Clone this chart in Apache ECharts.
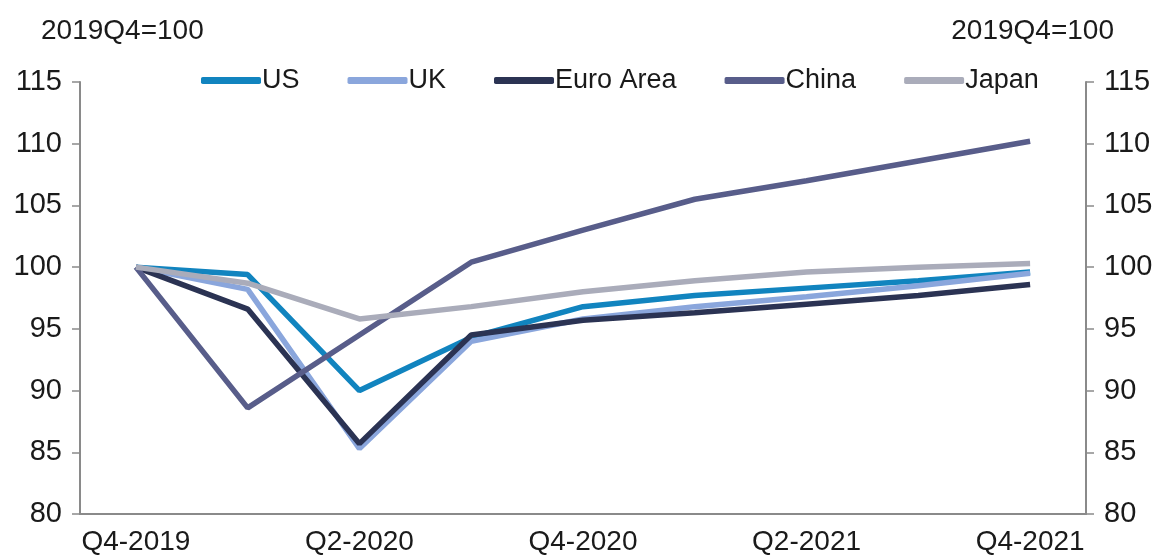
<!DOCTYPE html>
<html>
<head>
<meta charset="utf-8">
<script src="https://cdn.jsdelivr.net/npm/echarts@6/dist/echarts.min.js"></script>
<style>
  html, body { margin: 0; padding: 0; background: #fff; }
  #chart { width: 1167px; height: 559px; }
</style>
</head>
<body>
<div id="chart"></div>
<script>
const quarters = ['Q4-2019', 'Q1-2020', 'Q2-2020', 'Q3-2020', 'Q4-2020', 'Q1-2021', 'Q2-2021', 'Q3-2021', 'Q4-2021']
const us = [100, 99.4, 90.0, 94.3, 96.8, 97.7, 98.3, 98.9, 99.6]
const uk = [100, 98.2, 85.3, 94.0, 95.8, 96.8, 97.6, 98.5, 99.5]
const euroArea = [100, 96.6, 85.7, 94.5, 95.7, 96.3, 97.0, 97.7, 98.6]
const china = [100, 88.6, 94.5, 100.4, 103.0, 105.5, 107.0, 108.6, 110.2]
const japan = [100, 98.7, 95.8, 96.8, 98.0, 98.9, 99.6, 100.0, 100.3]

const font = 'Liberation Sans'
const txt = '#1a1a1a'

function line(name, data, color) {
  return {
    name: name,
    type: 'line',
    data: data,
    symbol: 'none',
    lineStyle: { width: 5.5, color: color },
    itemStyle: { color: color }
  }
}

const chart = echarts.init(document.getElementById('chart'))
chart.setOption({
  animation: false,
  title: [
    { text: '2019Q4=100', left: 36, top: 12, textStyle: { fontFamily: font, fontSize: 28, fontWeight: 'normal', color: txt } },
    { text: '2019Q4=100', right: 48, top: 12, textStyle: { fontFamily: font, fontSize: 28, fontWeight: 'normal', color: txt } }
  ],
  legend: {
    left: 196,
    top: 62,
    itemGap: 48,
    itemWidth: 60,
    itemHeight: 7,
    icon: 'roundRect',
    textStyle: { fontFamily: font, fontSize: 27, color: txt, padding: [0, 0, 0, -4] },
    data: ['US', 'UK', 'Euro Area', 'China', 'Japan']
  },
  grid: { left: 80, right: 81, top: 82, bottom: 45 },
  xAxis: {
    type: 'category',
    data: quarters,
    boundaryGap: true,
    axisLine: { lineStyle: { color: '#8a8a8a', width: 2 } },
    axisTick: { interval: 1, length: 8, lineStyle: { color: '#8a8a8a', width: 1.5 } },
    axisLabel: { interval: 1, margin: 14, fontFamily: font, fontSize: 28, color: txt }
  },
  yAxis: [
    {
      type: 'value', min: 80, max: 115, interval: 5, position: 'left',
      axisLine: { show: true, lineStyle: { color: '#8a8a8a', width: 2 } },
      axisTick: { show: true, length: 8, lineStyle: { color: '#8a8a8a', width: 1.5 } },
      splitLine: { show: false },
      axisLabel: { margin: 18, fontFamily: font, fontSize: 29, color: txt }
    },
    {
      type: 'value', min: 80, max: 115, interval: 5, position: 'right',
      axisLine: { show: true, lineStyle: { color: '#8a8a8a', width: 2 } },
      axisTick: { show: true, length: 8, lineStyle: { color: '#8a8a8a', width: 1.5 } },
      splitLine: { show: false },
      axisLabel: { margin: 18, fontFamily: font, fontSize: 29, color: txt }
    }
  ],
  series: [
    line('US', us, '#1184bf'),
    line('UK', uk, '#8aa6dc'),
    line('Euro Area', euroArea, '#2b3353'),
    line('China', china, '#585d8a'),
    line('Japan', japan, '#aaacba')
  ]
})
</script>
</body>
</html>
